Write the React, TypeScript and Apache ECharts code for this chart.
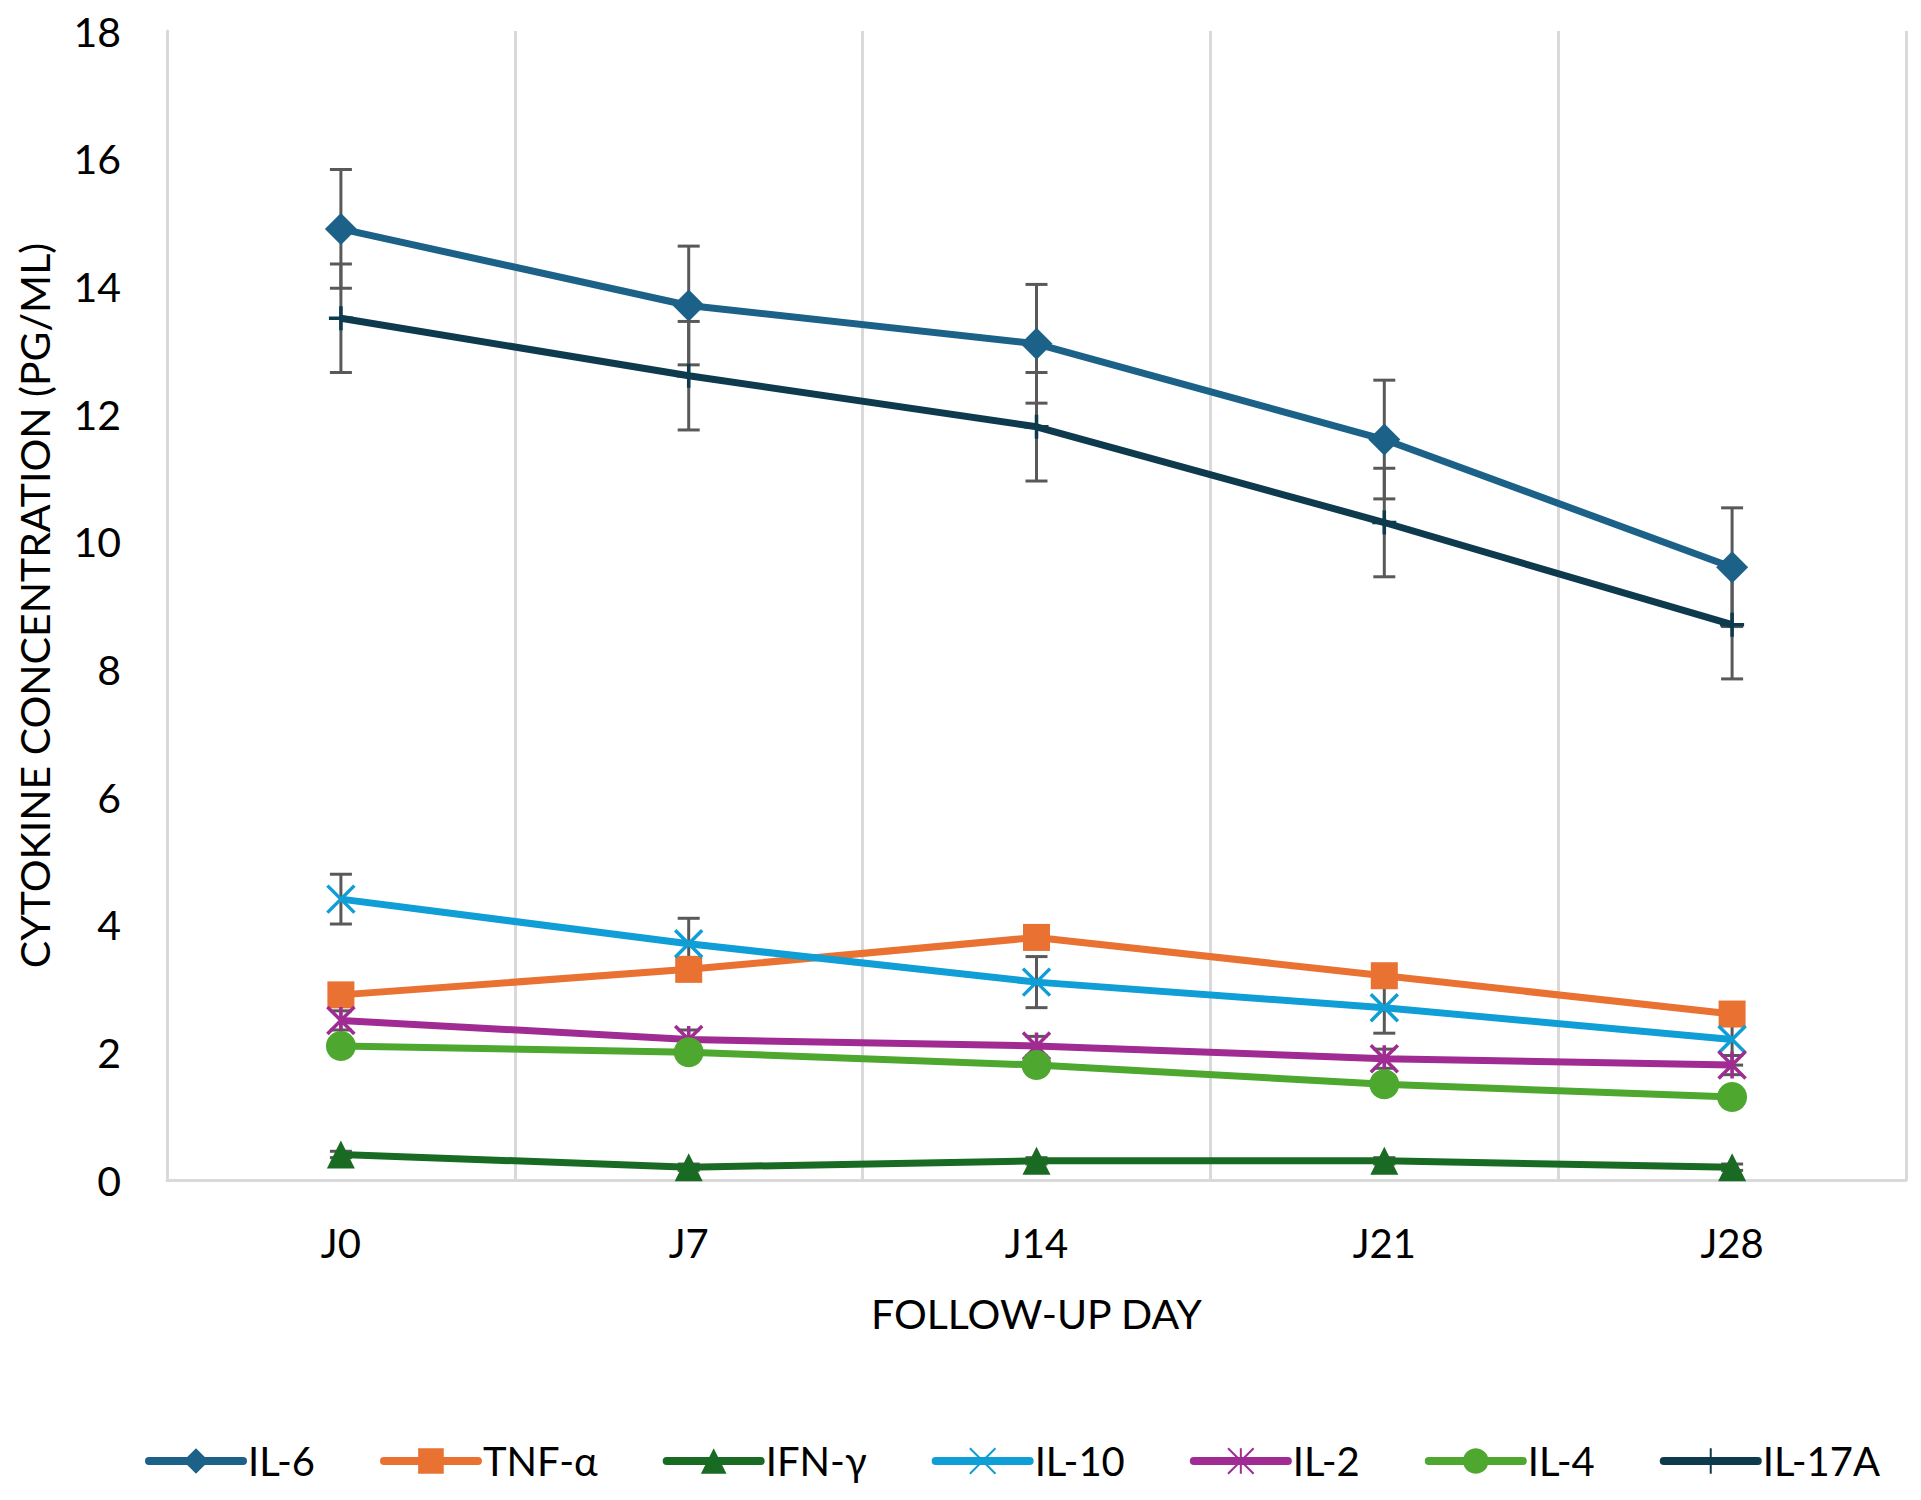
import { useEffect, useRef } from 'react';
import * as echarts from 'echarts';

// Follow-up days and cytokine means (pg/mL)
const days = ['J0', 'J7', 'J14', 'J21', 'J28'];

const il6 = [14.9, 13.7, 13.1, 11.6, 9.6];
const tnfA = [2.9, 3.3, 3.8, 3.2, 2.6];
const ifnG = [0.4, 0.2, 0.3, 0.3, 0.2];
const il10 = [4.4, 3.7, 3.1, 2.7, 2.2];
const il2 = [2.5, 2.2, 2.1, 1.9, 1.8];
const il4 = [2.1, 2.0, 1.8, 1.5, 1.3];
const il17a = [13.5, 12.6, 11.8, 10.3, 8.7];

// Error bar half-widths (+/-)
const il6Err = [0.93, 0.93, 0.93, 0.93, 0.93];
const tnfAErr = [0.12, 0.12, 0.12, 0.12, 0.12];
const ifnGErr = [0.05, 0.05, 0.05, 0.05, 0.05];
const il10Err = [0.39, 0.4, 0.4, 0.4, 0.4];
const il2Err = [0.15, 0.15, 0.15, 0.15, 0.15];
const il4Err = [0.12, 0.12, 0.12, 0.12, 0.12];
const il17aErr = [0.85, 0.85, 0.85, 0.85, 0.85];

const FONT = 'Lato';

// marker paths for the open symbols (Excel x, star and plus markers)
const X_PATH = 'path://M0,0L20,20M20,0L0,20';
const STAR_PATH = 'path://M0,0L20,20M20,0L0,20M10,0L10,20';
const PLUS_PATH = 'path://M10,0L10,20M0,10L20,10';

const seriesDefs = [
    { name: 'IL-6', data: il6, err: il6Err, color: '#1b6188', symbol: 'diamond', size: 32, open: false },
    { name: 'TNF-α', data: tnfA, err: tnfAErr, color: '#e97132', symbol: 'rect', size: 27, open: false },
    { name: 'IFN-γ', data: ifnG, err: ifnGErr, color: '#196b24', symbol: 'triangle', size: 28, open: false },
    { name: 'IL-10', data: il10, err: il10Err, color: '#0f9ed5', symbol: X_PATH, size: 27, open: true },
    { name: 'IL-2', data: il2, err: il2Err, color: '#a02b93', symbol: STAR_PATH, size: 27, open: true },
    { name: 'IL-4', data: il4, err: il4Err, color: '#4ea72e', symbol: 'circle', size: 30, open: false },
    { name: 'IL-17A', data: il17a, err: il17aErr, color: '#0e3a4e', symbol: PLUS_PATH, size: 24, open: true },
];

const CytokineChart = () => {
    const chartRef = useRef<HTMLDivElement>(null);

    useEffect(() => {
        document.body.style.margin = '0';
        if (!chartRef.current) return;
        const chart = echarts.init(chartRef.current, undefined, { renderer: 'svg' });

        // error bar rows: [day index, low, high]
        const errRows: number[][] = [];
        seriesDefs.forEach((s) => {
            s.data.forEach((v, i) => errRows.push([i, v - s.err[i], v + s.err[i]]));
        });

        chart.setOption({
            animation: false,
            backgroundColor: '#fff',
            textStyle: { fontFamily: FONT },
            grid: { left: 167, right: 15, top: 31, bottom: 320 },
            legend: {
                data: seriesDefs.map((s) => s.name),
                left: 140,
                top: 1436,
                itemWidth: 94,
                itemHeight: 32,
                itemGap: 65,
                lineStyle: { width: 8, cap: 'round' },
                textStyle: { fontSize: 40, color: '#000', fontFamily: FONT },
            },
            xAxis: {
                type: 'category',
                data: days,
                boundaryGap: true,
                name: 'FOLLOW-UP DAY',
                nameLocation: 'middle',
                nameGap: 113,
                nameTextStyle: { fontSize: 41, color: '#000' },
                axisLine: { show: true, lineStyle: { color: '#d9d9d9', width: 3 } },
                axisTick: { show: false },
                axisLabel: { fontSize: 40, color: '#000', margin: 43 },
                splitLine: { show: true, lineStyle: { color: '#d9d9d9', width: 3 } },
            },
            yAxis: {
                type: 'value',
                min: 0,
                max: 18,
                interval: 2,
                name: 'CYTOKINE CONCENTRATION (PG/ML)',
                nameLocation: 'middle',
                nameGap: 112,
                nameTextStyle: { fontSize: 41, color: '#000' },
                axisLine: { show: true, lineStyle: { color: '#d9d9d9', width: 3 } },
                axisTick: { show: false },
                axisLabel: { fontSize: 41, color: '#000', margin: 46 },
                splitLine: { show: false },
            },
            series: [
                {
                    type: 'custom',
                    name: 'errors',
                    z: 1,
                    data: errRows,
                    encode: { x: 0, y: [1, 2] },
                    renderItem: (_params: any, api: any) => {
                        const lo = api.coord([api.value(0), api.value(1)]);
                        const hi = api.coord([api.value(0), api.value(2)]);
                        const cap = 11;
                        const style = { stroke: '#595959', lineWidth: 3 };
                        return {
                            type: 'group',
                            children: [
                                { type: 'line', shape: { x1: lo[0], y1: lo[1], x2: hi[0], y2: hi[1] }, style },
                                { type: 'line', shape: { x1: lo[0] - cap, y1: lo[1], x2: lo[0] + cap, y2: lo[1] }, style },
                                { type: 'line', shape: { x1: hi[0] - cap, y1: hi[1], x2: hi[0] + cap, y2: hi[1] }, style },
                            ],
                        };
                    },
                },
                ...seriesDefs.map((s) => ({
                    type: 'line',
                    name: s.name,
                    data: s.data,
                    z: 3,
                    symbol: s.symbol,
                    symbolSize: s.size,
                    showAllSymbol: true,
                    lineStyle: { color: s.color, width: 7 },
                    itemStyle: s.open
                        ? { color: s.color, borderColor: s.color, borderWidth: 3.5 }
                        : { color: s.color, borderWidth: 0 },
                    emphasis: { disabled: true },
                })),
            ],
        });

        return () => chart.dispose();
    }, []);

    return <div ref={chartRef} style={{ width: 1921, height: 1500 }} />;
};

export default function App() {
    return <CytokineChart />;
}
